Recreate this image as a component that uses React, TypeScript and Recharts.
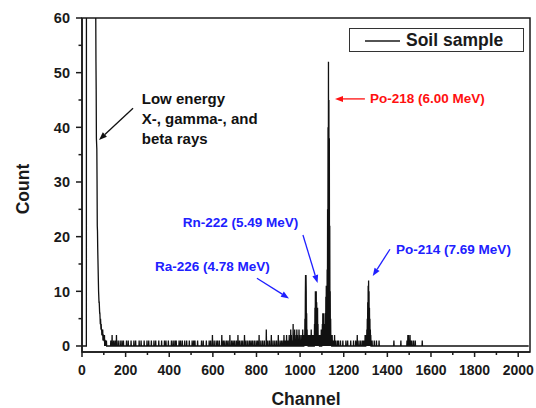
import React from 'react';
import { LineChart, Line, XAxis, YAxis, ReferenceLine, ReferenceDot, ReferenceArea, Legend } from 'recharts';

// ---- data ----
const LOW_START = 20; // first channel of the low-energy block
const lowCounts = [
  0, 180, 420, 760, 1100, 1350, 1500, 1580, 1600, 1580, 1540, 1480, 1400, 1310, 1220, 1130, 1040, 950, 870, 790,
  720, 650, 590, 530, 480, 430, 390, 350, 310, 280, 250, 220, 195, 175, 155, 138, 122, 108, 96, 86,
  78, 70, 64, 61, 52, 47, 38, 37, 36, 30, 22, 21, 18, 16, 14, 12, 10, 9, 8, 8,
  7, 6, 6, 5, 4, 5, 4, 3, 4, 3, 3, 2, 3, 2, 2, 3, 1, 2, 2, 1,
  2, 1, 1, 2, 0, 1, 1, 0, 1, 0, 1, 0, 1, 0,
];

const spikeChannels = [
  132, 138, 145, 152, 158, 166, 175, 183, 190, 204, 212, 225, 238, 246, 262, 271, 285, 298, 306, 318,
  330, 338, 352, 365, 378, 385, 396, 410, 418, 426, 432, 445, 452, 460, 471, 480, 492,
  505, 512, 518, 530, 548, 556, 570, 583, 590, 598, 606, 615, 622, 630, 641, 648, 655, 663, 670,
  678, 686, 693, 700, 708, 715, 722, 730, 737, 745, 752, 760, 768, 775, 782, 790, 798, 805, 812,
  820, 828, 836, 845, 852, 860, 868, 876, 884, 892, 900, 908, 915,
  922, 926, 930, 934, 938, 942, 946, 950, 953, 957, 960, 964, 968, 971, 975, 978, 982, 985, 988,
  992, 995, 998, 1002, 1005, 1008, 1012, 1015, 1018,
  1020, 1022, 1024, 1025, 1027, 1028, 1030, 1032, 1034, 1036, 1039, 1042, 1045, 1048, 1051, 1054,
  1057, 1060, 1063, 1066, 1068, 1070, 1072, 1074, 1076, 1078, 1080, 1082, 1084, 1086, 1088, 1091,
  1094, 1097, 1100, 1102, 1104, 1106, 1108, 1110, 1112, 1114, 1116, 1118, 1120, 1122, 1124, 1126,
  1128, 1130, 1132, 1134, 1136, 1138, 1140, 1142, 1144, 1147, 1150, 1154, 1158, 1162, 1170, 1176,
  1185, 1196, 1210, 1218, 1232, 1245, 1255, 1262, 1270, 1278, 1286, 1292, 1298, 1302, 1304, 1306,
  1308, 1310, 1312, 1314, 1316, 1318, 1320, 1322, 1324, 1330, 1340, 1350, 1362, 1430, 1462, 1490,
  1494, 1497, 1500, 1504, 1508, 1512, 1520, 1528, 1560,
];
const spikeCounts = [
  1, 2, 1, 1, 2, 1, 1, 1, 1, 1, 1, 1, 1, 1, 1, 1, 1, 1, 1, 1,
  1, 1, 1, 1, 1, 1, 1, 1, 1, 1, 1, 1, 1, 1, 1, 1, 1,
  1, 1, 1, 1, 1, 1, 1, 1, 1, 2, 1, 1, 1, 1, 2, 1, 1, 1, 1,
  2, 1, 1, 1, 1, 2, 1, 1, 1, 2, 1, 1, 1, 1, 1, 1, 1, 1, 2,
  1, 1, 1, 3, 1, 1, 2, 1, 1, 1, 2, 1, 1,
  1, 2, 1, 1, 2, 1, 1, 2, 1, 3, 2, 1, 4, 2, 3, 1, 2, 3, 2,
  1, 3, 2, 1, 2, 1, 3, 2, 1,
  2, 5, 9, 13, 13, 10, 6, 3, 2, 1, 2, 1, 2, 1, 3, 1,
  2, 1, 2, 4, 7, 10, 9, 10, 8, 6, 7, 4, 2, 1, 2, 1,
  2, 3, 2, 4, 6, 5, 6, 3, 2, 4, 6, 9, 11, 8, 14, 25,
  40, 52, 45, 38, 22, 10, 5, 2, 1, 2, 1, 1, 2, 1, 1, 1,
  1, 1, 1, 1, 1, 1, 1, 2, 1, 1, 1, 1, 2, 1, 2, 3,
  5, 8, 11, 12, 10, 7, 5, 3, 2, 1, 1, 1, 1, 1, 1, 1,
  2, 2, 1, 2, 1, 1, 1, 1, 1,
];
const LAST_CHANNEL = 2048;

const xMajorTicks = [0, 200, 400, 600, 800, 1000, 1200, 1400, 1600, 1800, 2000];
const xMinorTicks = [100, 300, 500, 700, 900, 1100, 1300, 1500, 1700, 1900];
const yMajorTicks = [0, 10, 20, 30, 40, 50, 60];
const yMinorTicks = [5, 15, 25, 35, 45, 55];

const X_DOMAIN: [number, number] = [0, 2054];
const Y_DOMAIN: [number, number] = [-1.1, 60];

const seriesName = 'Soil sample';

// annotations: [fromCh, fromVal, toCh, toVal]
const arrows = [
  { from: [234, 43.5], to: [78, 37.7], color: '#111' },
  { from: [1297, 45.2], to: [1160, 45.2], color: '#ff1010' },
  { from: [1013, 20.3], to: [1080, 11.5], color: '#2020ff' },
  { from: [802, 12.4], to: [949, 8.7], color: '#2020ff' },
  { from: [1412, 17.7], to: [1333, 12.8], color: '#2020ff' },
];
const notes = [
  { ch: 274, val: 45.3, text: 'Low energy', color: '#111', size: 15 },
  { ch: 274, val: 41.6, text: 'X-, gamma-, and', color: '#111', size: 15 },
  { ch: 274, val: 38.0, text: 'beta rays', color: '#111', size: 15 },
  { ch: 1320, val: 45.2, text: 'Po-218 (6.00 MeV)', color: '#ff1010', size: 13.5 },
  { ch: 462, val: 22.5, text: 'Rn-222 (5.49 MeV)', color: '#2020ff', size: 13.5 },
  { ch: 335, val: 14.6, text: 'Ra-226 (4.78 MeV)', color: '#2020ff', size: 13.5 },
  { ch: 1440, val: 17.7, text: 'Po-214 (7.69 MeV)', color: '#2020ff', size: 13.5 },
];

// build table
const counts: number[] = new Array(LAST_CHANNEL + 1).fill(0);
lowCounts.forEach((c, i) => { counts[LOW_START + i] = c; });
spikeChannels.forEach((ch, i) => { counts[ch] = spikeCounts[i]; });
const data = counts.map((count, ch) => ({ ch, count }));

const FONT = '"Liberation Sans", Arial, Helvetica, sans-serif';
const INK = '#1a1a1a';

const X_TICK_SIZE = 5;
const X_TICK_MARGIN = 8;
const Y_TICK_SIZE = 6;
const Y_TICK_MARGIN = 6;

const XTick = (props: any) => {
  const { x, y, payload } = props;
  const major = xMajorTicks.includes(payload.value);
  const axisY = y - X_TICK_SIZE - X_TICK_MARGIN;
  return (
    <g>
      <line x1={x} x2={x} y1={axisY} y2={axisY + (major ? 5 : 3)} stroke={INK} strokeWidth={1.5} />
      {major && (
        <text x={x} y={y} dy="0.71em" textAnchor="middle" fontFamily={FONT} fontWeight="bold" fontSize={14} fill={INK}>
          {payload.value}
        </text>
      )}
    </g>
  );
};

const YTick = (props: any) => {
  const { x, y, payload } = props;
  const major = yMajorTicks.includes(payload.value);
  const axisX = x + Y_TICK_SIZE + Y_TICK_MARGIN;
  return (
    <g>
      <line x1={axisX - (major ? 6 : 3.5)} x2={axisX} y1={y} y2={y} stroke={INK} strokeWidth={1.5} />
      {major && (
        <text x={x} y={y} dy="0.36em" textAnchor="end" fontFamily={FONT} fontWeight="bold" fontSize={14.5} fill={INK}>
          {payload.value}
        </text>
      )}
    </g>
  );
};

const Arrow = (props: any) => {
  const { x1, y1, x2, y2, color } = props;
  if ([x1, y1, x2, y2].some((v) => typeof v !== 'number' || isNaN(v))) return null;
  const dx = x2 - x1;
  const dy = y2 - y1;
  const len = Math.sqrt(dx * dx + dy * dy) || 1;
  const ux = dx / len;
  const uy = dy / len;
  const hl = 8;
  const hw = 3;
  const bx = x2 - ux * hl;
  const by = y2 - uy * hl;
  const pts = `${x2},${y2} ${bx - uy * hw},${by + ux * hw} ${bx + uy * hw},${by - ux * hw}`;
  return (
    <g>
      <line x1={x1} y1={y1} x2={bx} y2={by} stroke={color} strokeWidth={1.3} />
      <polygon points={pts} fill={color} />
    </g>
  );
};

const LegendContent = () => (
  <div
    style={{
      width: 173,
      height: 22,
      border: '1.5px solid #333',
      background: '#fff',
      display: 'flex',
      alignItems: 'center',
      boxSizing: 'content-box',
    }}
  >
    <svg width={56} height={22}>
      <line x1={15} x2={50} y1={12} y2={12} stroke={INK} strokeWidth={1.3} />
    </svg>
    <span style={{ fontFamily: FONT, fontWeight: 'bold', fontSize: 17.5, color: INK, lineHeight: '22px' }}>
      {seriesName}
    </span>
  </div>
);

export default function App() {
  return (
    <div style={{ position: 'absolute', left: 0, top: 0, width: 536, height: 408, background: '#fff' }}>
      <LineChart width={536} height={408} data={data} margin={{ top: 18, right: 6, left: 0, bottom: 26 }}>
        <XAxis
          type="number"
          dataKey="ch"
          domain={X_DOMAIN}
          allowDataOverflow
          ticks={[...xMajorTicks, ...xMinorTicks].sort((a, b) => a - b)}
          interval={0}
          tick={<XTick />}
          tickLine={false}
          tickSize={X_TICK_SIZE}
          tickMargin={X_TICK_MARGIN}
          height={30}
          axisLine={{ stroke: INK, strokeWidth: 1.5 }}
          label={{
            content: (p: any) => {
              const vb = p.viewBox || { x: 82, y: 352, width: 448 };
              return (
                <text x={vb.x + vb.width / 2} y={vb.y + 47} dominantBaseline="central" textAnchor="middle" fontFamily={FONT} fontWeight="bold" fontSize={17.5} fill={INK}>
                  Channel
                </text>
              );
            },
          }}
        />
        <YAxis
          type="number"
          domain={Y_DOMAIN}
          allowDataOverflow
          ticks={[...yMajorTicks, ...yMinorTicks].sort((a, b) => a - b)}
          interval={0}
          tick={<YTick />}
          tickLine={false}
          tickSize={Y_TICK_SIZE}
          tickMargin={Y_TICK_MARGIN}
          width={82}
          axisLine={{ stroke: INK, strokeWidth: 1.5 }}
          label={{
            content: (p: any) => {
              const vb = p.viewBox || { x: 0, y: 18, height: 334 };
              const cy = vb.y + vb.height / 2 + 4;
              return (
                <text x={23} y={cy} transform={`rotate(-90 23 ${cy})`} dominantBaseline="central" textAnchor="middle" fontFamily={FONT} fontWeight="bold" fontSize={17.5} fill={INK}>
                  Count
                </text>
              );
            },
          }}
        />
        <ReferenceArea x1={X_DOMAIN[0]} x2={X_DOMAIN[1]} y1={Y_DOMAIN[0]} y2={Y_DOMAIN[1]} fill="none" fillOpacity={0} stroke={INK} strokeWidth={1.5} ifOverflow="visible" />
        <Line
          type="linear"
          dataKey="count"
          name={seriesName}
          stroke="#111"
          strokeWidth={1.3}
          dot={false}
          activeDot={false}
          isAnimationActive={false}
        />
        {arrows.map((a, i) => (
          <ReferenceLine
            key={`arrow-${i}`}
            segment={[
              { x: a.from[0], y: a.from[1] },
              { x: a.to[0], y: a.to[1] },
            ]}
            ifOverflow="visible"
            shape={(p: any) => <Arrow {...p} color={a.color} />}
          />
        ))}
        {notes.map((n, i) => (
          <ReferenceDot
            key={`note-${i}`}
            x={n.ch}
            y={n.val}
            r={0}
            ifOverflow="visible"
            shape={(p: any) => (
              <text x={p.cx} y={p.cy} dominantBaseline="central" textAnchor="start" fontFamily={FONT} fontWeight="bold" fontSize={n.size} fill={n.color}>
                {n.text}
              </text>
            )}
          />
        ))}
        <Legend
          layout="vertical"
          align="center"
          verticalAlign="middle"
          content={<LegendContent />}
          wrapperStyle={{ left: 349, top: 28, width: 176, height: 25 }}
        />
      </LineChart>
    </div>
  );
}
